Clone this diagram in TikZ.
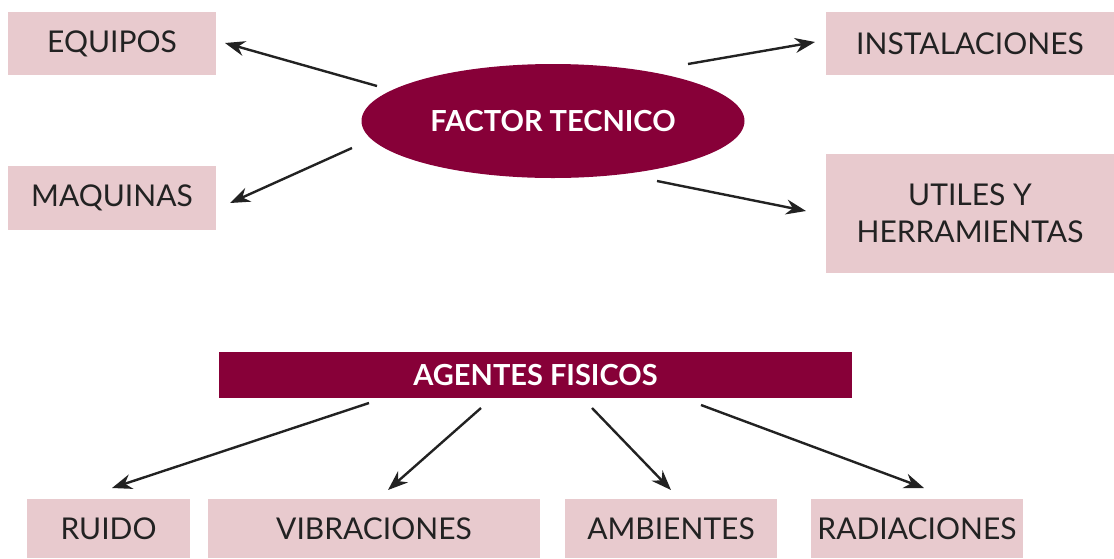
\documentclass[tikz,border=0pt]{standalone}
\usepackage{fontspec}
\setmainfont{Lato}
\usetikzlibrary{arrows.meta,shapes.geometric}
\definecolor{maroon}{HTML}{870038}
\definecolor{pinkbox}{HTML}{E8CACE}
\definecolor{ink}{HTML}{222222}
\tikzset{
  pbox/.style={fill=pinkbox, draw=none, inner sep=0pt, font=\fontsize{30}{37}\selectfont, text=ink, align=center},
  conn/.style={draw=ink, line width=2.4pt, -{Stealth[length=20pt,width=15pt]}},
}
\begin{document}
\begin{tikzpicture}[x=1pt,y=-1pt]
\useasboundingbox (0,0) rectangle (1114,558);
% top boxes
\node[pbox, minimum width=208pt, minimum height=63pt] (equ) at (112,43.5) {EQUIPOS};
\node[pbox, minimum width=208pt, minimum height=64pt] (maq) at (112,198) {MAQUINAS};
\node[pbox, minimum width=288pt, minimum height=63pt] (ins) at (970,43.5) {INSTALACIONES};
\node[pbox, minimum width=288pt, minimum height=119pt] (uti) at (970,213) {UTILES Y\\HERRAMIENTAS};
% ellipse
\node[ellipse, fill=maroon, minimum width=383pt, minimum height=114pt, inner sep=0pt, text=white, font=\fontsize{29}{34}\selectfont\bfseries] (ft) at (553,121) {FACTOR TECNICO};
% bar
\node[fill=maroon, minimum width=633pt, minimum height=46pt, inner sep=0pt, text=white, font=\fontsize{29}{34}\selectfont\bfseries] (af) at (535.5,375) {AGENTES FISICOS};
% bottom boxes
\node[pbox, minimum width=163pt, minimum height=59pt] (rui) at (108.5,528.5) {RUIDO};
\node[pbox, minimum width=332pt, minimum height=59pt] (vib) at (374,528.5) {VIBRACIONES};
\node[pbox, minimum width=212pt, minimum height=59pt] (amb) at (671,528.5) {AMBIENTES};
\node[pbox, minimum width=212pt, minimum height=59pt] (rad) at (917,528.5) {RADIACIONES};
% connector ends
\coordinate (s1) at (377,86);  \coordinate (e1) at (225,43);
\coordinate (s2) at (352,148); \coordinate (e2) at (230,203);
\coordinate (s3) at (688,64);  \coordinate (e3) at (815,42);
\coordinate (s4) at (657,181); \coordinate (e4) at (806,211);
\coordinate (s5) at (369,403); \coordinate (e5) at (112,488);
\coordinate (s6) at (481,408); \coordinate (e6) at (388,490);
\coordinate (s7) at (592,408); \coordinate (e7) at (671,490);
\coordinate (s8) at (701,405); \coordinate (e8) at (924,488);
\draw[conn] (s1) -- (e1);
\draw[conn] (s2) -- (e2);
\draw[conn] (s3) -- (e3);
\draw[conn] (s4) -- (e4);
\draw[conn] (s5) -- (e5);
\draw[conn] (s6) -- (e6);
\draw[conn] (s7) -- (e7);
\draw[conn] (s8) -- (e8);
\end{tikzpicture}
\end{document}
